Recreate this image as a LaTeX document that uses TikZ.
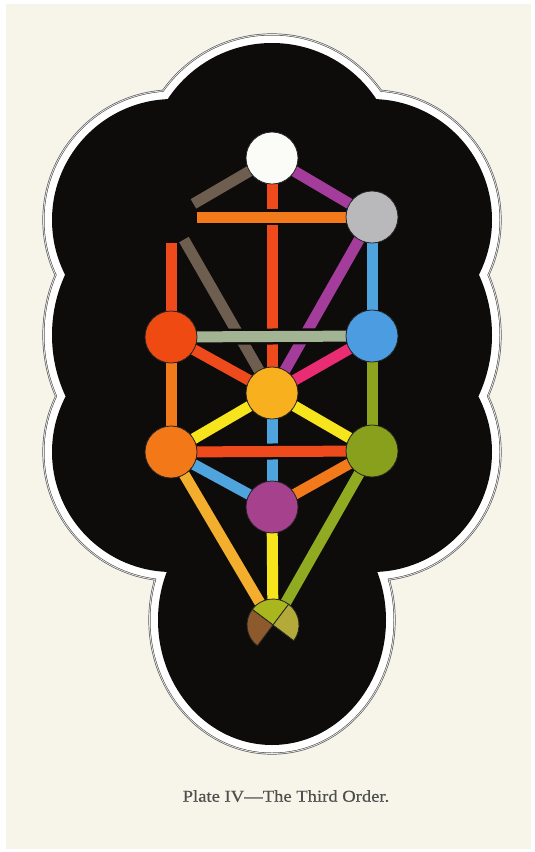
\documentclass[tikz,border=0pt]{standalone}
\usepackage{fontspec}
\usepackage{tikz}
\usepackage{xcolor}

\newfontfamily\platefont[FakeStretch=1.12,FakeBold=0.6]{Liberation Serif}

\definecolor{pagecream}{HTML}{F7F5EA}
\definecolor{voidblack}{HTML}{0E0B0B}
\definecolor{rimgrey}{HTML}{5A5A5A}
\definecolor{captiongrey}{HTML}{4E4E4E}
\definecolor{keterwhite}{HTML}{FBFBF8}
\definecolor{chokgrey}{HTML}{B9B9BC}
\definecolor{chesedblue}{HTML}{4C9CE2}
\definecolor{geburared}{HTML}{EE4A12}
\definecolor{tiphgold}{HTML}{F8B01E}
\definecolor{netzgreen}{HTML}{88A01C}
\definecolor{hodorange}{HTML}{F27818}
\definecolor{yesodpurple}{HTML}{A6418E}
\definecolor{malktop}{HTML}{AAB61E}
\definecolor{malkleft}{HTML}{8C5A2C}
\definecolor{malkright}{HTML}{B4AA3A}
\definecolor{pathpurple}{HTML}{A43C9C}
\definecolor{pathbrown}{HTML}{6E5E50}
\definecolor{pathred}{HTML}{EE4A1C}
\definecolor{pathorange}{HTML}{F27A1A}
\definecolor{pathblue}{HTML}{50A4DE}
\definecolor{pathsage}{HTML}{A2B494}
\definecolor{pathcrimson}{HTML}{EA2C72}
\definecolor{patholive}{HTML}{8CA41E}
\definecolor{pathyellow}{HTML}{F6E41C}
\definecolor{pathamber}{HTML}{F4AE2E}
\definecolor{pathgreen}{HTML}{90AA22}

\newcommand{\cloudshape}[2]{%
  \fill[#2] (272,168) circle[radius=125+#1]
    (173,220) circle[radius=121+#1] (371,220) circle[radius=121+#1]
    (197,335) circle[radius=145+#1] (347,335) circle[radius=145+#1]
    (172,452) circle[radius=120+#1] (372,452) circle[radius=120+#1]
    (272,620) ellipse[x radius=114+#1, y radius=125+#1];}

\pgfdeclarelayer{cloud}
\pgfdeclarelayer{paths}
\pgfsetlayers{cloud,paths,main}

\begin{document}
\begin{tikzpicture}[
  x=1pt, y=-1pt,
  disc/.style={
    circle,
    draw=black!85,
    line width=0.8pt,
    inner sep=0pt,
    outer sep=0pt,
    minimum size=52pt,
  },
  bar/.style={line width=11pt, preaction={draw=voidblack, line width=16pt}},
  quarter/.style={draw=black!85, line width=0.8pt},
  caption/.style={
    font=\platefont\fontsize{16.6}{18}\selectfont,
    text=captiongrey,
    inner sep=0pt,
    anchor=base,
  },
]
\useasboundingbox (0,0) rectangle (535,852);

\begin{pgfonlayer}{cloud}
\fill[white] (0,0) rectangle (535,852);
\fill[pagecream] (6,4) rectangle (531,849);
\cloudshape{9.6}{rimgrey}
\cloudshape{8.9}{white}
\cloudshape{8.2}{rimgrey}
\cloudshape{7.5}{white}
\cloudshape{0}{voidblack}
\end{pgfonlayer}

\node[disc, fill=keterwhite] (kether) at (272,158) {};
\node[disc, fill=chokgrey] (chokmah) at (372,217) {};
\node[disc, draw=none] (binah) at (171,217) {};
\node[disc, fill=chesedblue] (chesed) at (372,336) {};
\node[disc, fill=geburared] (geburah) at (171,337) {};
\node[disc, fill=tiphgold] (tiphareth) at (272,393) {};
\node[disc, fill=netzgreen] (netzach) at (372,451) {};
\node[disc, fill=hodorange] (hod) at (171,452) {};
\node[disc, fill=yesodpurple] (yesod) at (272,507) {};
\node[disc, draw=none] (malkuth) at (273,625) {};

\filldraw[quarter, fill=malktop] (malkuth.center) -- ++(-53:26) arc[start angle=-53, end angle=-143, radius=26] -- cycle;
\filldraw[quarter, fill=malkleft] (malkuth.center) -- ++(-143:26) arc[start angle=-143, end angle=-233, radius=26] -- cycle;
\filldraw[quarter, fill=malkright] (malkuth.center) -- ++(37:26) arc[start angle=37, end angle=-53, radius=26] -- cycle;

\begin{pgfonlayer}{paths}
\draw[bar, draw=pathpurple] (kether) -- (chokmah);
\draw[bar, draw=pathbrown] (kether) -- (binah);
\draw[bar, draw=pathred] (kether) -- (tiphareth);
\draw[bar, draw=pathblue] (chokmah) -- (chesed);
\draw[bar, draw=pathpurple] (chokmah) -- (tiphareth);
\draw[bar, draw=pathred] (binah) -- (geburah);
\draw[bar, draw=pathbrown] (binah) -- (tiphareth);
\draw[bar, draw=pathcrimson] (chesed) -- (tiphareth);
\draw[bar, draw=patholive] (chesed) -- (netzach);
\draw[bar, draw=pathred] (geburah) -- (tiphareth);
\draw[bar, draw=pathorange] (geburah) -- (hod);
\draw[bar, draw=pathyellow] (tiphareth) -- (netzach);
\draw[bar, draw=pathyellow] (tiphareth) -- (hod);
\draw[bar, draw=pathblue] (tiphareth) -- (yesod);
\draw[bar, draw=pathorange] (netzach) -- (yesod);
\draw[bar, draw=pathblue] (hod) -- (yesod);
\draw[bar, draw=pathamber] (hod) -- (malkuth);
\draw[bar, draw=pathgreen] (netzach) -- (malkuth);
\draw[bar, draw=pathyellow] (yesod) -- (malkuth);
\draw[bar, draw=pathorange] (chokmah) -- (binah);
\draw[bar, draw=pathsage] (chesed) -- (geburah);
\draw[bar, draw=pathred] (hod) -- (netzach);
\end{pgfonlayer}

\node[caption] (plate_caption) at (286,801.7) {Plate IV—The Third Order.};

\end{tikzpicture}
\end{document}
